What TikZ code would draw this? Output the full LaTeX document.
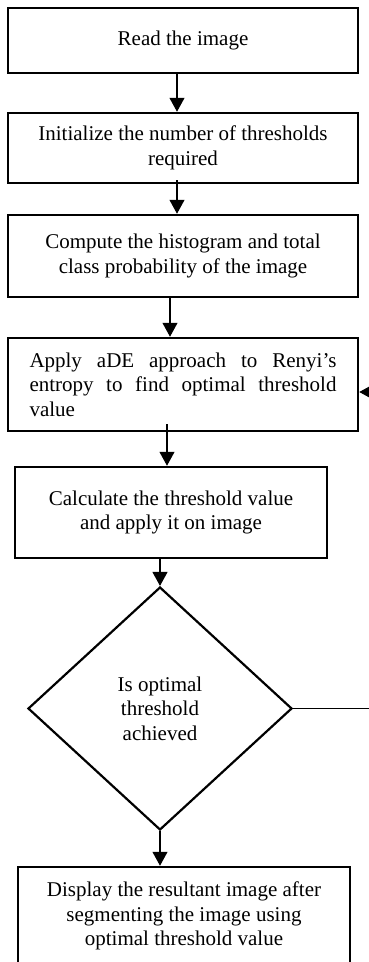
\documentclass[tikz,border=0pt]{standalone}
\usepackage{fontspec}
\setmainfont{Liberation Serif}
\usetikzlibrary{shapes.geometric,arrows.meta}
\tolerance=9999
\hyphenpenalty=10000
\exhyphenpenalty=10000
\begin{document}
\begin{tikzpicture}[x=1pt,y=-1pt,
  txt/.style={font=\fontsize{21}{24.5}\selectfont},
  box/.style={txt,draw,line width=2.5pt,inner sep=0pt,align=center},
  dia/.style={txt,draw,diamond,line width=2.2pt,inner sep=0pt,align=center},
  arr/.style={line width=1.2pt,-{Triangle[width=15pt,length=14pt]}},
]
\useasboundingbox (0,0) rectangle (369,962);
\node[box,minimum width=350,minimum height=65] (b1) at (183,40.5) {Read the image};
\node[box,minimum width=350,minimum height=70] (b2) at (183,148) {Initialize the number of thresholds\\required};
\node[box,minimum width=350,minimum height=82] (b3) at (183,256) {Compute the histogram and total\\class probability of the image};
\node[box,minimum width=350,minimum height=93,text width=307,align=justify] (b4) at (183,384.5) {Apply aDE approach to Renyi’s entropy to find optimal threshold value};
\node[box,minimum width=312,minimum height=91] (b5) at (171,512.5) {Calculate the threshold value\\and apply it on image};
\node[dia,minimum width=264,minimum height=243] (d) at (160,708.5) {Is optimal\\threshold\\achieved};
\node[box,minimum width=332,minimum height=98] (b6) at (184,916) {Display the resultant image after\\segmenting the image using\\optimal threshold value};
\coordinate (fb) at (376,0);
\draw[arr] ([xshift=-6pt]b1.south) -- ([xshift=-6pt]b2.north);
\draw[arr] ([xshift=-6pt,yshift=4pt]b2.south) -- ([xshift=-6pt]b3.north);
\draw[arr] ([xshift=-13pt]b3.south) -- ([xshift=-13pt]b4.north);
\draw[arr] ([xshift=-16pt,yshift=8pt]b4.south) -- ([xshift=-16pt]b4.south |- b5.north);
\draw[arr] (b5.south -| d.north) -- (d.north);
\draw[arr] (d.south) -- (d.south |- b6.north);
\draw[arr] (d.east) -- (d.east -| fb) |- ([yshift=-7.5pt]b4.east);
\end{tikzpicture}
\end{document}
